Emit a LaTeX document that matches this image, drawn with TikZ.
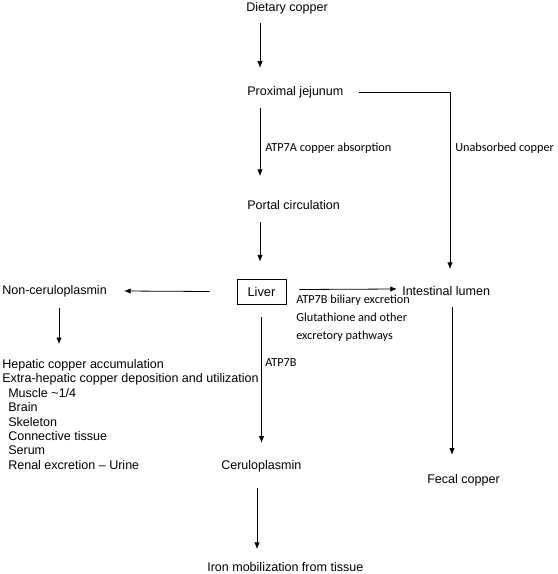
\documentclass[tikz,border=0pt]{standalone}
\usepackage{fontspec}
\setmainfont{Liberation Sans}
\newfontfamily\lblfont{Carlito}
\usetikzlibrary{arrows.meta,calc}
\begin{document}
\begin{tikzpicture}[x=0.75pt,y=-0.75pt,
 txt/.style={anchor=west,inner sep=0pt,font=\fontsize{9.4}{10.8}\selectfont,align=left},
 lbl/.style={anchor=west,inner sep=0pt,font=\lblfont\fontsize{9.2}{13.5}\selectfont,align=left},
 arr/.style={-{Latex[length=5pt,width=4pt]},line width=0.6pt},
 ln/.style={line width=0.6pt}]
\useasboundingbox (0,0) rectangle (557,574);
\coordinate (axis) at (260,0);
\coordinate (lx) at (59,0);
\coordinate (cx) at (257,0);
\coordinate (ux) at (450,0);
\coordinate (fx) at (452,0);
% nodes
\node[txt] (diet) at (246,8) {Dietary copper};
\node[txt] (prox) at (247,92) {Proximal jejunum};
\node[txt] (portal) at (247,205) {Portal circulation};
\node[draw,ln,inner sep=0pt,minimum width=36.75pt,minimum height=18.75pt,font=\fontsize{9.6}{10.8}\selectfont] (liver) at (261.5,291.5) {Liver};
\node[txt] (noncp) at (2,291) {Non-ceruloplasmin};
\node[txt] (intl) at (402,291) {Intestinal lumen};
\node[lbl] (bil) at (296,318) {ATP7B biliary excretion\\Glutathione and other\\excretory pathways};
\node[txt] (hep) at (2,414.5) {Hepatic copper accumulation\\Extra-hepatic copper deposition and utilization\\
\hspace*{4.5pt}Muscle \textasciitilde1/4\\\hspace*{4.5pt}Brain\\\hspace*{4.5pt}Skeleton\\\hspace*{4.5pt}Connective tissue\\\hspace*{4.5pt}Serum\\\hspace*{4.5pt}Renal excretion -- Urine};
\node[txt] (cp) at (221,466) {Ceruloplasmin};
\node[txt] (iron) at (207,567) {Iron mobilization from tissue};
\node[txt] (fecal) at (427,480) {Fecal copper};
\node[lbl] (atp7a) at (265,148) {ATP7A copper absorption};
\node[lbl] (unabs) at (455,148) {Unabsorbed copper};
\node[lbl] (atp7b) at (265,363) {ATP7B};
% connectors
\draw[arr] ($(diet.south -| axis)+(0,9)$) -- ($(prox.north -| axis)+(0,-18)$);
\draw[arr] ($(prox.south -| axis)+(0,10)$) -- ($(portal.north -| axis)+(0,-24)$);
\draw[arr] ($(portal.south -| axis)+(0,12)$) -- ($(liver.north -| axis)+(0,-17)$);
\draw[arr] ($(liver.west)+(-27,0)$) -- ($(noncp.east)+(17,0)$);
\draw[arr] ($(liver.east)+(13,-2)$) -- ($(intl.west)+(-5,-2)$);
\draw[arr] ($(noncp.south -| lx)+(0,11)$) -- ($(hep.north -| lx)+(0,-15)$);
\draw[arr] ($(liver.south)+(0,13)$) -- ($(cp.north -| liver)+(0,-17)$);
\draw[arr] ($(cp.south -| cx)+(0,16)$) -- ($(iron.north -| cx)+(0,-13)$);
\draw[arr] ($(prox.east)+(15,0)$) -| ($(intl.north -| ux)+(0,-17)$);
\draw[arr] ($(intl.south -| fx)+(0,11)$) -- ($(fecal.north -| fx)+(0,-19)$);
\end{tikzpicture}
\end{document}
